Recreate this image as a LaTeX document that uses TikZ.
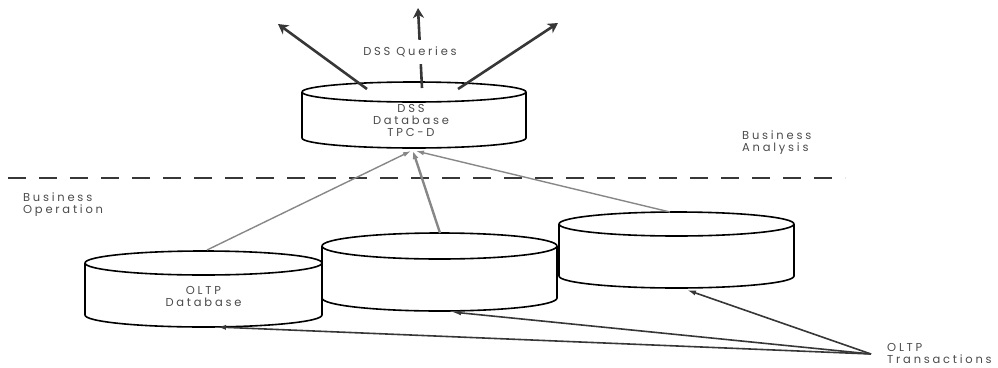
\documentclass[tikz,border=0pt]{standalone}
\usepackage{fontspec}
\setmainfont{Poppins}[LetterSpace=24]
\usetikzlibrary{arrows.meta}

\definecolor{ink}{RGB}{55,55,55}
\definecolor{txt}{RGB}{75,75,75}
\definecolor{feed}{RGB}{135,135,135}

% database drum: #1 cx, #2 y of top ellipse, #3 y of bottom ellipse, #4 rx, #5 ry
\newcommand\dbdrum[5]{%
  \fill[white] (#1-#4,#2) -- (#1-#4,#3)
    arc[start angle=180,end angle=0,x radius=#4,y radius=#5]
    -- (#1+#4,#2)
    arc[start angle=0,end angle=-180,x radius=#4,y radius=#5] -- cycle;
  \draw[drum] (#1-#4,#2) -- (#1-#4,#3)
    arc[start angle=180,end angle=0,x radius=#4,y radius=#5]
    -- (#1+#4,#2);
  \draw[drum] (#1,#2) ellipse[x radius=#4,y radius=#5];
}

\begin{document}
\begin{tikzpicture}[x=1pt,y=-1pt,
  drum/.style={line width=1.6pt,black,line join=round},
  lbl/.style={text=txt,inner sep=0pt,font=\fontsize{11.5}{12}\selectfont},
  query/.style={line width=2.6pt,ink,-{Stealth[length=10pt,width=11pt,inset=3pt]}},
  feedline/.style={line width=1.4pt,feed,-{Latex[length=8pt,width=5pt]}},
  feedmain/.style={line width=2.4pt,feed,-{Latex[length=8pt,width=6pt]}},
  txn/.style={line width=1.6pt,ink,-{Latex[length=9pt,width=5pt]}},
  divider/.style={line width=2.5pt,ink,dash pattern=on 18pt off 13pt}]
\useasboundingbox (0,0) rectangle (998,367);

% drums
\dbdrum{414}{92}{138}{112}{10}
\dbdrum{203.5}{263}{315}{118.5}{12}
\dbdrum{439.5}{246}{298}{117.5}{13}
\dbdrum{676.5}{224}{276}{117.5}{12}

% anchor points on the drums
\coordinate (dssL) at (367,89);
\coordinate (dssM) at (422,88);
\coordinate (dssR) at (458,89);
\coordinate (dssB1) at (411,151);
\coordinate (dssB2) at (413,151);
\coordinate (dssB3) at (416,151);
\coordinate (oltpTop) at (207,250);
\coordinate (midTop) at (440,233);
\coordinate (rgtTop) at (670,212);
\coordinate (oltpBot) at (217,327);
\coordinate (midBot) at (452,312);
\coordinate (rgtBot) at (687,290);
\coordinate (src) at (871,354);
\coordinate (tipL) at (278,24);
\coordinate (tipM) at (418,8);
\coordinate (tipR) at (558,23);
\coordinate (divA) at (8,178);
\coordinate (divB) at (845,178);

% separation between analysis and operation
\draw[divider] (divA) -- (divB);

% queries leaving the DSS database
\draw[query] (dssL) -- (tipL);
\draw[query] (dssM) -- (tipM);
\draw[query] (dssR) -- (tipR);
\node[lbl,fill=white,inner xsep=2pt,inner ysep=7pt] (queries) at (410,52) {DSS Queries};

% data fed from the OLTP databases
\draw[feedline] (oltpTop) -- (dssB1);
\draw[feedmain] (midTop) -- (dssB2);
\draw[feedline] (rgtTop) -- (dssB3);

% transactions
\draw[txn] (src) -- (rgtBot);
\draw[txn] (src) -- (midBot);
\draw[txn] (src) -- (oltpBot);

% texts
\node[lbl,align=center] (dsstext) at (411,120) {DSS\\Database\\TPC-D};
\node[lbl,align=left,anchor=west] (analysis) at (742,143) {Business\\Analysis};
\node[lbl,align=left,anchor=west] (operation) at (23,205) {Business\\Operation};
\node[lbl,align=center] (oltptext) at (203.5,296) {OLTP\\Database};
\node[lbl,align=left,anchor=west] (trans) at (887,353) {OLTP\\Transactions};
\end{tikzpicture}
\end{document}
